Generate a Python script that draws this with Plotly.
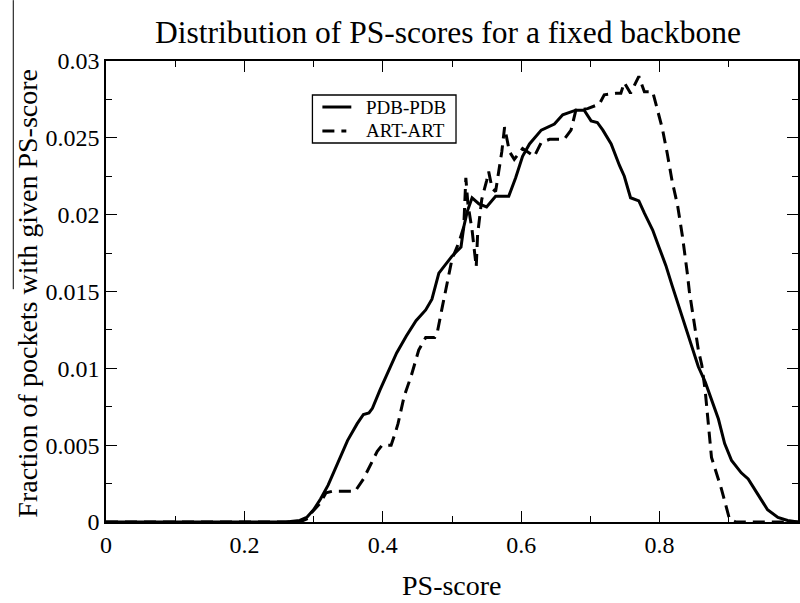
import plotly.graph_objects as go

# PDB-PDB (solid)
pdb_x = [0, 0.1, 0.2, 0.26, 0.28, 0.29, 0.3, 0.31, 0.321, 0.335, 0.349, 0.363, 0.372, 0.380, 0.385,
         0.396, 0.406, 0.420, 0.434, 0.448, 0.462, 0.471, 0.481, 0.5, 0.513, 0.517, 0.522, 0.529,
         0.539, 0.550, 0.563, 0.582, 0.592, 0.602, 0.612, 0.629, 0.648, 0.660, 0.679, 0.691, 0.701,
         0.710, 0.718, 0.730, 0.742, 0.749, 0.758, 0.770, 0.778, 0.790, 0.799, 0.809, 0.818, 0.823,
         0.840, 0.856, 0.866, 0.875, 0.885, 0.894, 0.904, 0.918, 0.928, 0.942, 0.956, 0.971, 0.985, 1.0]
pdb_y = [0, 0, 0, 0, 0.0001, 0.0003, 0.0008, 0.0015, 0.0024, 0.0038, 0.0053, 0.0064, 0.0070, 0.0071, 0.0074,
         0.0086, 0.0096, 0.0110, 0.0121, 0.0131, 0.0138, 0.0145, 0.0162, 0.0173, 0.0179, 0.0192, 0.0202, 0.0211,
         0.0207, 0.0205, 0.0212, 0.0212, 0.0224, 0.0238, 0.0246, 0.0255, 0.0259, 0.0265, 0.0268, 0.0268, 0.0261,
         0.0260, 0.0255, 0.0246, 0.0232, 0.0225, 0.0211, 0.0209, 0.0201, 0.0190, 0.0179, 0.0167, 0.0154, 0.0147,
         0.0124, 0.0101, 0.0091, 0.0079, 0.0067, 0.0051, 0.0040, 0.0032, 0.0028, 0.0018, 0.0008, 0.0003, 0.0001, 0]

# ART-ART (dashed)
art_x = [0, 0.1, 0.2, 0.28, 0.29, 0.297, 0.309, 0.318, 0.327, 0.36, 0.372, 0.383, 0.392, 0.399, 0.412,
         0.418, 0.422, 0.431, 0.441, 0.452, 0.462, 0.475, 0.479, 0.486, 0.493, 0.500, 0.510, 0.517, 0.520,
         0.523, 0.529, 0.535, 0.537, 0.543, 0.550, 0.553, 0.558, 0.563, 0.572, 0.576, 0.583, 0.590, 0.602,
         0.619, 0.629, 0.641, 0.662, 0.672, 0.679, 0.696, 0.713, 0.72, 0.737, 0.744, 0.749, 0.758, 0.770,
         0.778, 0.79, 0.794, 0.804, 0.811, 0.818, 0.826, 0.833, 0.84, 0.843, 0.856, 0.861, 0.866, 0.87,
         0.875, 0.889, 0.901, 0.91, 1.0]
art_y = [0, 0, 0, 0, 0.0002, 0.0006, 0.0012, 0.0019, 0.002, 0.002, 0.0028, 0.0038, 0.0046, 0.005, 0.005,
         0.0058, 0.0064, 0.0082, 0.0095, 0.0112, 0.012, 0.012, 0.0124, 0.0140, 0.0156, 0.0171, 0.0182, 0.0192, 0.0224,
         0.0207, 0.019, 0.0166, 0.0187, 0.021, 0.0222, 0.0228, 0.0217, 0.0215, 0.0241, 0.0257, 0.0241, 0.0236, 0.0243,
         0.0238, 0.0247, 0.0249, 0.0249, 0.0255, 0.0268, 0.0269, 0.0272, 0.0278, 0.0279, 0.0279, 0.0286, 0.0279, 0.0290,
         0.0280, 0.0280, 0.0273, 0.0256, 0.024, 0.0222, 0.0206, 0.0186, 0.0162, 0.0150, 0.0112, 0.0102, 0.0085, 0.0065,
         0.0042, 0.0022, 0.0002, 0, 0]

x_ticks = [0, 0.2, 0.4, 0.6, 0.8]
x_ticklabels = ["0", "0.2", "0.4", "0.6", "0.8"]
y_ticks = [0, 0.005, 0.01, 0.015, 0.02, 0.025, 0.03]
y_ticklabels = ["0", "0.005", "0.01", "0.015", "0.02", "0.025", "0.03"]
series_names = ["PDB-PDB", "ART-ART"]

SERIF = "Liberation Serif, Times New Roman, serif"
DASH = "12px,7px"

fig = go.Figure()
fig.add_trace(go.Scatter(x=pdb_x, y=pdb_y, mode="lines", name=series_names[0],
                         line=dict(color="black", width=3)))
fig.add_trace(go.Scatter(x=art_x, y=art_y, mode="lines", name=series_names[1],
                         line=dict(color="black", width=3, dash=DASH)))

axis_common = dict(
    showgrid=False, zeroline=False, showline=True, linecolor="black", linewidth=1.5,
    mirror="ticks", ticks="inside", ticklen=11, tickwidth=1.3, tickcolor="black",
    tickfont=dict(family=SERIF, size=24, color="black"),
)

# legend box (paper coordinates of the plot area)
lx0, lx1, ly0, ly1 = 0.2983, 0.5058, 0.8221, 0.9262
row_y = [0.9002, 0.8482]
shapes = [
    dict(type="rect", xref="paper", yref="paper", x0=lx0, x1=lx1, y0=ly0, y1=ly1,
         line=dict(color="black", width=1.3), fillcolor="white", layer="above"),
    dict(type="line", xref="paper", yref="paper", x0=0.3127, x1=0.3545, y0=row_y[0], y1=row_y[0],
         line=dict(color="black", width=3), layer="above"),
    dict(type="line", xref="paper", yref="paper", x0=0.3127, x1=0.3473, y0=row_y[1], y1=row_y[1],
         line=dict(color="black", width=3, dash=DASH), layer="above"),
    # thin vertical rule at the far left of the original page
    dict(type="line", xref="paper", yref="paper", x0=-0.134, x1=-0.134, y0=1.132, y1=0.505,
         line=dict(color="black", width=1)),
]
annotations = [
    dict(text=series_names[i], xref="paper", yref="paper", x=0.3732, y=row_y[i], xanchor="left",
         yanchor="middle", showarrow=False, font=dict(family=SERIF, size=19, color="black"))
    for i in range(2)
] + [
    dict(text="PS-score", xref="paper", yref="paper", x=0.5, y=-0.137, xanchor="center",
         yanchor="middle", showarrow=False, font=dict(family=SERIF, size=28, color="black")),
    dict(text="Fraction of pockets with given PS-score", xref="paper", yref="paper",
         x=-0.113, y=0.497, xanchor="center", yanchor="middle", textangle=-90,
         showarrow=False, font=dict(family=SERIF, size=28, color="black")),
]

fig.update_layout(
    width=800, height=603,
    margin=dict(l=106, r=0, t=61, b=81),
    paper_bgcolor="white", plot_bgcolor="white",
    title=dict(text="Distribution of PS-scores for a fixed backbone", x=0.56, xanchor="center",
               y=0.947, yanchor="middle", font=dict(family=SERIF, size=31.5, color="black")),
    xaxis=dict(range=[0, 1.0], tickvals=x_ticks, ticktext=x_ticklabels,
               minor=dict(dtick=0.1, tick0=0, ticks="inside", ticklen=6, tickwidth=1.3, tickcolor="black"),
               **axis_common),
    yaxis=dict(range=[0, 0.03], tickvals=y_ticks, ticktext=y_ticklabels,
               minor=dict(dtick=0.0025, tick0=0, ticks="inside", ticklen=6, tickwidth=1.3, tickcolor="black"),
               **axis_common),
    showlegend=False,
    annotations=annotations,
    shapes=shapes,
)

fig.write_html("out.html")
